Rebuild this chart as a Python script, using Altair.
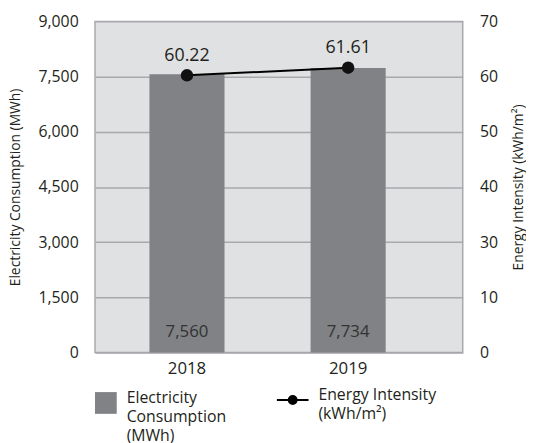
import altair as alt
import pandas as pd

years = ["2018", "2019"]
consumption = [7560, 7734]
intensity = [60.22, 61.61]
left_ticks = [0, 1500, 3000, 4500, 6000, 7500, 9000]
right_tick_values = [10, 20, 30, 40, 50, 60, 70]
right_tick_labels = ["0", "10", "30", "40", "50", "60", "70"]

bar_series = "Electricity Consumption (MWh)"
line_series = "Energy Intensity (kWh/m²)"

df = pd.DataFrame({
    "year": years,
    "consumption": consumption,
    "intensity": intensity,
    "bar_series": [bar_series] * len(years),
    "line_series": [line_series] * len(years),
})

FONT = "Open Sans"
TEXT = "#231f20"
BAR = "#808285"
GRID = "#a7a9ac"
BG = "#e0e1e2"

right_label_expr = "[{}][indexof([{}], datum.value)]".format(
    ",".join("'" + s + "'" for s in right_tick_labels),
    ",".join(str(v) for v in right_tick_values),
)

x = alt.X(
    "year:N",
    title=None,
    scale=alt.Scale(paddingInner=0.534, paddingOuter=0.408, align=0.414),
    axis=alt.Axis(labelAngle=0, labelFontSize=17, labelColor=TEXT, labelPadding=8,
                  ticks=False, domain=False, labelFont=FONT),
)

left_scale = alt.Scale(domain=[0, 9000], nice=False)
left_axis = alt.Axis(values=left_ticks, format=",.0f", grid=True, gridColor=GRID, gridWidth=1.5,
                     gridOpacity=1, ticks=False, domain=False, labelFontSize=16, labelColor=TEXT,
                     labelPadding=17, titleFontSize=14, titleFontWeight="normal", titleColor=TEXT,
                     titlePadding=16, labelFont=FONT, titleFont=FONT)

y_left = alt.Y("consumption:Q", title=bar_series, scale=left_scale, axis=left_axis)

y_right = alt.Y(
    "intensity:Q",
    title=line_series,
    scale=alt.Scale(domain=[10, 70], nice=False, zero=False),
    axis=alt.Axis(orient="right", values=right_tick_values, labelExpr=right_label_expr,
                  grid=False, ticks=False, domain=False, labelFontSize=16, labelColor=TEXT,
                  labelPadding=17, titleFontSize=14, titleFontWeight="normal", titleColor=TEXT,
                  titlePadding=28, titleAngle=270, labelFont=FONT, titleFont=FONT),
)

base = alt.Chart(df)

bars = base.mark_bar(color=BAR).encode(
    x=x,
    y=y_left,
    fill=alt.Fill(
        "bar_series:N",
        scale=alt.Scale(range=[BAR]),
        legend=alt.Legend(orient="none", legendX=0, legendY=375, title=None,
                          symbolType="square", symbolSize=484, symbolStrokeWidth=0,
                          symbolOpacity=1, labelExpr="split(datum.label, ' ')",
                          labelFontSize=16, labelColor=TEXT, labelBaseline="alphabetic",
                          labelOffset=10, padding=0, labelFont=FONT, labelLimit=300),
    ),
)

bar_text = base.mark_text(baseline="alphabetic", dy=-16, fontSize=17, color="#333333",
                          font=FONT).encode(
    x=x,
    y=alt.Y(datum=0, title=bar_series, scale=left_scale, axis=left_axis),
    text=alt.Text("consumption:Q", format=","),
)

left = alt.layer(bars, bar_text)

legend_path = "M-1,0L1,0M0.25,0A0.25,0.25,0,1,1,-0.25,0A0.25,0.25,0,1,1,0.25,0Z"

line = base.mark_line(strokeWidth=2).encode(
    x=x,
    y=y_right,
    stroke=alt.Stroke(
        "line_series:N",
        scale=alt.Scale(range=["#000000"]),
        legend=alt.Legend(orient="none", legendX=183, legendY=366, title=None,
                          symbolType=legend_path, symbolSize=1024, symbolStrokeWidth=2,
                          symbolFillColor="#000000", symbolOpacity=1,
                          labelExpr="split(replace(datum.label, ' (', '|('), '|')",
                          labelFontSize=16, labelColor=TEXT, labelBaseline="alphabetic",
                          labelOffset=9, padding=0, labelFont=FONT, labelLimit=300),
    ),
)

points = base.mark_circle(size=160, color="#111111", opacity=1).encode(x=x, y=y_right)

pt_text = base.mark_text(dy=-20, fontSize=18, color=TEXT, font=FONT).encode(
    x=x,
    y=y_right,
    text=alt.Text("intensity:Q", format=".2f"),
)

right = alt.layer(line, points, pt_text)

chart = (
    alt.layer(left, right)
    .resolve_scale(y="independent")
    .properties(width=372, height=335, padding={"left": 0, "top": 3, "right": 0, "bottom": 0})
    .configure(font=FONT, style={"guide-label": {"lineHeight": 19}})
    .configure_view(fill=BG, stroke=GRID, strokeWidth=1.5)
)

chart.save("out.html", embed_options={"renderer": "svg", "actions": False})
